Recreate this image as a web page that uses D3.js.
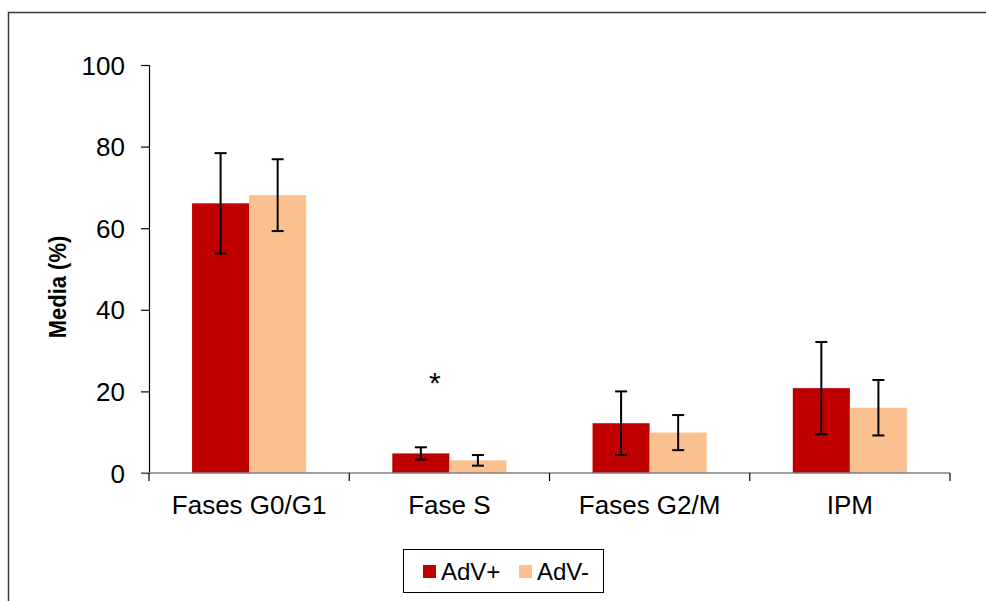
<!DOCTYPE html>
<html>
<head>
<meta charset="utf-8">
<script src="https://cdn.jsdelivr.net/npm/d3@7"></script>
<style>
  html, body { margin: 0; padding: 0; background: #ffffff; }
  svg { display: block; }
  text { font-family: "Liberation Sans", Arial, sans-serif; fill: #000; }
</style>
</head>
<body>
<div id="chart"></div>
<script>
// Cell-cycle distribution (mean %) for AdV+ and AdV- groups
const categories = ["Fases G0/G1", "Fase S", "Fases G2/M", "IPM"];
const seriesNames = ["AdV+", "AdV-"];
const advPos = [66.1, 4.8, 12.2, 20.8];
const advNeg = [68.1, 3.1, 9.9, 16.0];
const advPosErr = [12.3, 1.5, 7.8, 11.3];
const advNegErr = [8.8, 1.3, 4.3, 6.8];
const yTicks = [0, 20, 40, 60, 80, 100];
const seriesColors = ["#C00000", "#FAC090"];
// significance mark above the S-phase group
const annotations = [{ category: "Fase S", label: "*", value: 23.5 }];

const W = 986, H = 601;
const svg = d3.select("#chart").append("svg").attr("width", W).attr("height", H);

// outer frame
svg.append("rect")
  .attr("x", 8.5).attr("y", 12.5)
  .attr("width", W + 20).attr("height", H + 20)
  .attr("fill", "none").attr("stroke", "#3a3a3a").attr("stroke-width", 1.5);

const plot = { left: 149, right: 950, top: 65, bottom: 473 };

const x0 = d3.scaleBand().domain(categories)
  .range([plot.left, plot.right]).paddingInner(0.43).paddingOuter(0.215);
const x1 = d3.scaleBand().domain(seriesNames).range([0, x0.bandwidth()]);
const y = d3.scaleLinear().domain([0, 100]).range([plot.bottom, plot.top]);

const rows = categories.map((c, i) => ({
  category: c,
  values: [
    { series: seriesNames[0], value: advPos[i], err: advPosErr[i], color: seriesColors[0] },
    { series: seriesNames[1], value: advNeg[i], err: advNegErr[i], color: seriesColors[1] }
  ]
}));

// bars
const groups = svg.selectAll("g.cat").data(rows).join("g")
  .attr("class", "cat")
  .attr("transform", d => `translate(${x0(d.category)},0)`);

groups.selectAll("rect").data(d => d.values).join("rect")
  .attr("x", d => x1(d.series))
  .attr("y", d => y(d.value))
  .attr("width", x1.bandwidth())
  .attr("height", d => y(0) - y(d.value))
  .attr("fill", d => d.color);

// error bars
const capHalf = 6;
const eb = groups.selectAll("g.err").data(d => d.values).join("g").attr("class", "err")
  .attr("stroke", "#000").attr("stroke-width", 2);
eb.append("line")
  .attr("x1", d => x1(d.series) + x1.bandwidth() / 2)
  .attr("x2", d => x1(d.series) + x1.bandwidth() / 2)
  .attr("y1", d => y(d.value + d.err))
  .attr("y2", d => y(d.value - d.err));
eb.append("line")
  .attr("x1", d => x1(d.series) + x1.bandwidth() / 2 - capHalf)
  .attr("x2", d => x1(d.series) + x1.bandwidth() / 2 + capHalf)
  .attr("y1", d => y(d.value + d.err)).attr("y2", d => y(d.value + d.err));
eb.append("line")
  .attr("x1", d => x1(d.series) + x1.bandwidth() / 2 - capHalf)
  .attr("x2", d => x1(d.series) + x1.bandwidth() / 2 + capHalf)
  .attr("y1", d => y(d.value - d.err)).attr("y2", d => y(d.value - d.err));

// y axis
const yAxis = d3.axisLeft(y).tickValues(yTicks).tickSize(8).tickPadding(16);
const gy = svg.append("g").attr("transform", `translate(${plot.left},0)`).call(yAxis);
gy.select(".domain").attr("stroke", "#000").attr("stroke-width", 1.2);
gy.selectAll(".tick line").attr("stroke", "#000").attr("stroke-width", 1.2);
gy.selectAll(".tick text")
  .attr("font-size", 26).attr("font-family", "Liberation Sans, Arial, sans-serif")
  .attr("fill", "#000").attr("dy", "0.35em");

// x axis: line with tick marks between categories
const step = x0.step();
const boundaries = d3.range(categories.length + 1).map(i => plot.left + i * step);
svg.append("line")
  .attr("x1", plot.left - 8).attr("x2", plot.right)
  .attr("y1", y(0)).attr("y2", y(0))
  .attr("stroke", "#808080").attr("stroke-width", 1.5);
svg.selectAll("line.xtick").data(boundaries).join("line")
  .attr("class", "xtick")
  .attr("x1", d => d).attr("x2", d => d)
  .attr("y1", y(0)).attr("y2", y(0) + 8)
  .attr("stroke", "#000").attr("stroke-width", 1.2);

svg.selectAll("text.xlab").data(categories).join("text")
  .attr("class", "xlab")
  .attr("x", d => x0(d) + x0.bandwidth() / 2)
  .attr("y", 514)
  .attr("text-anchor", "middle")
  .attr("font-size", 26)
  .text(d => d);

// y title
svg.append("text")
  .attr("transform", `translate(66,287) rotate(-90) scale(1,1.12)`)
  .attr("text-anchor", "middle")
  .attr("font-size", 22).attr("font-weight", "bold")
  .text("Media (%)");

// annotations
svg.selectAll("text.note").data(annotations).join("text")
  .attr("class", "note")
  .attr("x", d => x0(d.category) + x1(seriesNames[0]) + x1.bandwidth() / 2 + 14)
  .attr("y", d => y(d.value) + 16)
  .attr("text-anchor", "middle")
  .attr("font-size", 30)
  .text(d => d.label);

// legend
const legend = svg.append("g");
legend.append("rect")
  .attr("x", 403.5).attr("y", 549.5).attr("width", 200).attr("height", 43)
  .attr("fill", "#fff").attr("stroke", "#000").attr("stroke-width", 1);
const li = legend.selectAll("g.li").data(seriesNames).join("g")
  .attr("class", "li")
  .attr("transform", (d, i) => `translate(${423 + i * 96},565)`);
li.append("rect").attr("width", 13).attr("height", 13)
  .attr("fill", (d, i) => seriesColors[i]);
li.append("text").attr("x", 18).attr("y", 15).attr("font-size", 24).text(d => d);
</script>
</body>
</html>
